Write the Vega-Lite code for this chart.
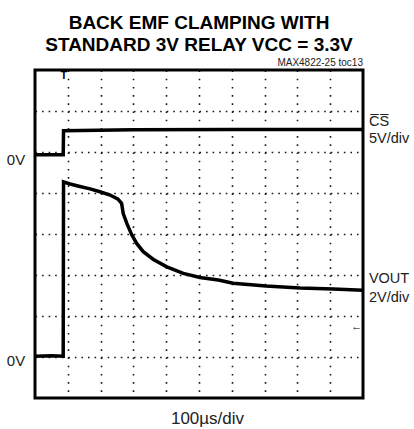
{
  "$schema": "https://vega.github.io/schema/vega-lite/v6.json",
  "width": 328,
  "height": 328,
  "autosize": {"type": "none"},
  "padding": {"left": 35, "top": 70, "right": 51, "bottom": 31},
  "background": "white",
  "config": {
    "view": {"stroke": "black", "strokeWidth": 3},
    "font": "Liberation Sans Narrow, Liberation Sans, sans-serif",
    "title": {"font": "Liberation Sans Narrow, Liberation Sans, sans-serif"}
  },
  "title": {
    "text": ["BACK EMF CLAMPING WITH", "STANDARD 3V RELAY VCC = 3.3V"],
    "fontSize": 19,
    "fontWeight": "bold",
    "color": "black",
    "anchor": "middle",
    "lineHeight": 22,
    "offset": 3
  },
  "datasets": {
    "vout": [
      {"t": 0, "v": 1.02}, {"t": 0.5, "v": 1.03}, {"t": 0.86, "v": 1.02},
      {"t": 0.87, "v": 5.27}, {"t": 1.07, "v": 5.22}, {"t": 1.37, "v": 5.16},
      {"t": 1.68, "v": 5.10}, {"t": 1.98, "v": 5.03}, {"t": 2.29, "v": 4.95},
      {"t": 2.53, "v": 4.85}, {"t": 2.64, "v": 4.75}, {"t": 2.69, "v": 4.50},
      {"t": 2.80, "v": 4.26}, {"t": 2.95, "v": 3.98}, {"t": 3.10, "v": 3.77},
      {"t": 3.30, "v": 3.57}, {"t": 3.61, "v": 3.38}, {"t": 4.02, "v": 3.20},
      {"t": 4.52, "v": 3.04}, {"t": 5.03, "v": 2.94}, {"t": 5.59, "v": 2.88},
      {"t": 6.04, "v": 2.80}, {"t": 7.04, "v": 2.73}, {"t": 8.08, "v": 2.68},
      {"t": 9.09, "v": 2.66}, {"t": 10, "v": 2.63}
    ],
    "cs": [
      {"t": 0, "v": 5.93}, {"t": 0.86, "v": 5.93}, {"t": 0.87, "v": 6.52},
      {"t": 3, "v": 6.54}, {"t": 6, "v": 6.55}, {"t": 10, "v": 6.55}
    ],
    "leftlabels": [
      {"t": -0.3, "v": 5.80, "label": "0V"},
      {"t": -0.3, "v": 0.91, "label": "0V"}
    ],
    "rightlabels": [
      {"t": 10.18, "v": 6.74, "label": "C̅S̅"},
      {"t": 10.18, "v": 6.32, "label": "5V/div"},
      {"t": 10.18, "v": 2.91, "label": "VOUT"},
      {"t": 10.18, "v": 2.44, "label": "2V/div"}
    ],
    "note": [{"t": 10, "v": 8.16, "label": "MAX4822-25 toc13"}],
    "marks": [{"t": 0.88, "v": 7.86, "label": "T"}],
    "arrow": [{"t": 9.98, "v": 1.73, "label": "←"}]
  },
  "layer": [
    {
      "data": {"name": "cs"},
      "mark": {"type": "line", "color": "black", "strokeWidth": 3.5},
      "encoding": {
        "x": {
          "field": "t", "type": "quantitative",
          "scale": {"domain": [0, 10], "nice": false, "zero": false},
          "axis": {
            "values": [1, 2, 3, 4, 5, 6, 7, 8, 9],
            "grid": true, "gridColor": "black", "gridOpacity": 0.9, "gridWidth": 1.6, "gridDash": [1.6, 6.6],
            "labels": false, "ticks": false, "domain": false,
            "title": "100µs/div", "titleFontSize": 17, "titleFontWeight": "normal",
            "titleColor": "#222", "titlePadding": 12, "titleX": 172
          }
        },
        "y": {
          "field": "v", "type": "quantitative",
          "scale": {"domain": [0, 8], "nice": false, "zero": false},
          "axis": {
            "values": [1, 2, 3, 4, 5, 6, 7],
            "grid": true, "gridColor": "black", "gridOpacity": 0.9, "gridWidth": 1.6, "gridDash": [1.6, 4.96],
            "labels": false, "ticks": false, "domain": false, "title": null
          }
        }
      }
    },
    {
      "data": {"name": "vout"},
      "mark": {"type": "line", "color": "black", "strokeWidth": 3.5},
      "encoding": {
        "x": {"field": "t", "type": "quantitative"},
        "y": {"field": "v", "type": "quantitative"}
      }
    },
    {
      "mark": {"type": "rule", "color": "black", "strokeWidth": 5, "strokeDash": [1, 5.56]},
      "encoding": {"y": {"datum": 4}}
    },
    {
      "mark": {"type": "rule", "color": "black", "strokeWidth": 5, "strokeDash": [1, 7.2]},
      "encoding": {"x": {"datum": 5}}
    },
    {
      "mark": {"type": "rule", "color": "black", "strokeWidth": 6, "strokeDash": [1, 5.56]},
      "encoding": {"y": {"datum": 0}}
    },
    {
      "mark": {"type": "rule", "color": "black", "strokeWidth": 6, "strokeDash": [1, 5.56]},
      "encoding": {"y": {"datum": 8}}
    },
    {
      "mark": {"type": "rule", "color": "black", "strokeWidth": 6, "strokeDash": [1, 7.2]},
      "encoding": {"x": {"datum": 0}}
    },
    {
      "mark": {"type": "rule", "color": "black", "strokeWidth": 6, "strokeDash": [1, 7.2]},
      "encoding": {"x": {"datum": 10}}
    },
    {
      "data": {"name": "leftlabels"},
      "mark": {"type": "text", "fontSize": 15, "color": "#222", "baseline": "middle", "align": "right"},
      "encoding": {
        "x": {"field": "t", "type": "quantitative"},
        "y": {"field": "v", "type": "quantitative"},
        "text": {"field": "label"}
      }
    },
    {
      "data": {"name": "rightlabels"},
      "mark": {"type": "text", "fontSize": 14.5, "color": "#222", "baseline": "middle", "align": "left"},
      "encoding": {
        "x": {"field": "t", "type": "quantitative"},
        "y": {"field": "v", "type": "quantitative"},
        "text": {"field": "label"}
      }
    },
    {
      "data": {"name": "note"},
      "mark": {"type": "text", "fontSize": 10, "color": "#222", "baseline": "middle", "align": "right"},
      "encoding": {
        "x": {"field": "t", "type": "quantitative"},
        "y": {"field": "v", "type": "quantitative"},
        "text": {"field": "label"}
      }
    },
    {
      "data": {"name": "marks"},
      "mark": {"type": "text", "fontSize": 11, "fontWeight": "bold", "color": "black", "baseline": "middle", "align": "center"},
      "encoding": {
        "x": {"field": "t", "type": "quantitative"},
        "y": {"field": "v", "type": "quantitative"},
        "text": {"field": "label"}
      }
    },
    {
      "data": {"name": "arrow"},
      "mark": {"type": "text", "fontSize": 11, "color": "black", "baseline": "middle", "align": "right"},
      "encoding": {
        "x": {"field": "t", "type": "quantitative"},
        "y": {"field": "v", "type": "quantitative"},
        "text": {"field": "label"}
      }
    }
  ]
}
